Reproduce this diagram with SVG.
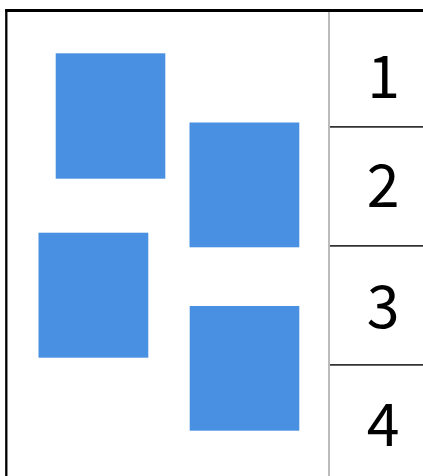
<svg xmlns="http://www.w3.org/2000/svg" width="423" height="476" viewBox="0 0 423 476">
<style>
.blk{fill:#4a90e2}
.num{font-family:"Noto Sans CJK SC","Noto Sans",sans-serif;font-size:59px;fill:#000;text-anchor:middle}
.row{stroke:#333;stroke-width:1.7}
</style>
<rect width="423" height="476" fill="#fff"/>
<g id="frame">
<line x1="6.3" y1="9" x2="6.3" y2="476" stroke="#000" stroke-width="2.3"/>
<line x1="5.2" y1="10.5" x2="423" y2="10.5" stroke="#000" stroke-width="3"/>
<line x1="329" y1="12" x2="329" y2="476" stroke="#bbb" stroke-width="2"/>
</g>
<g id="connectors">
<line class="row" x1="330" y1="126.8" x2="423" y2="126.8"/>
<line class="row" x1="330" y1="245.8" x2="423" y2="245.8"/>
<line class="row" x1="330" y1="364.8" x2="423" y2="364.8"/>
</g>
<g id="block1"><rect class="blk" x="55.7" y="53.3" width="109.6" height="125.4"/></g>
<g id="block2"><rect class="blk" x="189.5" y="122.5" width="109.8" height="124.8"/></g>
<g id="block3"><rect class="blk" x="38.5" y="232.7" width="109.8" height="125"/></g>
<g id="block4"><rect class="blk" x="189.7" y="306" width="109.6" height="124.7"/></g>
<g id="cell1"><text class="num" x="383.5" y="98">1</text></g>
<g id="cell2"><text class="num" x="383" y="206.5">2</text></g>
<g id="cell3"><text class="num" x="383" y="327.5">3</text></g>
<g id="cell4"><text class="num" x="383" y="446.3">4</text></g>
</svg>
